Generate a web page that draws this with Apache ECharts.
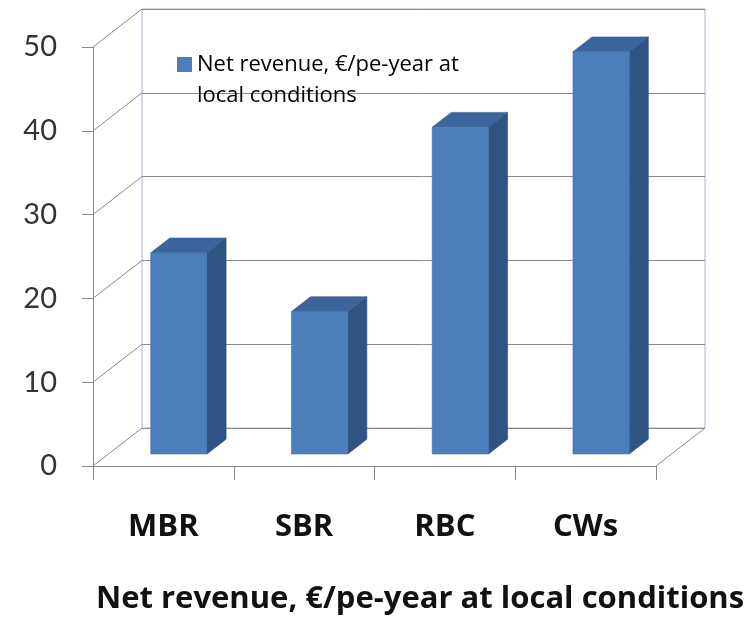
<!DOCTYPE html>
<html><head><meta charset="utf-8">
<script src="https://cdn.jsdelivr.net/npm/echarts@6/dist/echarts.min.js"></script>
<style>html,body{margin:0;padding:0;background:#fff}#c{width:755px;height:620px}</style>
</head><body><div id="c"></div>
<script>
// ---- data ----
const categories = ['MBR', 'SBR', 'RBC', 'CWs'];
const values = [24, 17, 39, 48];
const yTicks = [0, 10, 20, 30, 40, 50];
const seriesName = 'Net revenue, €/pe-year at local conditions';
const legendLines = ['Net revenue, €/pe-year at', 'local conditions'];
const axisTitle = 'Net revenue, €/pe-year at local conditions';

// ---- layout / style ----
const G = {left: 93, top: 47, width: 563, height: 419};
const DX = 49, DY = -38;          // depth offset of the back wall
const F = 0.316, B = 0.705;       // front / back depth fraction of bars
const BAR_W = 0.4;                // bar width fraction of band
const GRID_C = '#8a8a8a';
const WALL_EDGE = '#a3b6d2';
const FRONT = '#4B7EBB', TOP = '#3C659E', SIDE = '#2F5383';
// legend icon: square on top of a tall (invisible) box so it lines up with the first text line
const LEGEND_ICON = 'path://M0,0L15,0L15,15L0,15Z M0,46L0.01,46';

const chart = echarts.init(document.getElementById('c'), null, {renderer: 'canvas'});

const option = {
  backgroundColor: '#ffffff',
  animation: false,
  title: {
    text: axisTitle,
    left: 91, top: 579,
    textStyle: {fontFamily: 'Open Sans', fontWeight: 'bold', fontSize: 31, color: '#111'}
  },
  legend: {
    left: 177, top: 49, padding: 0,
    itemWidth: 15, itemHeight: 46, itemGap: 0,
    data: [{name: seriesName, icon: LEGEND_ICON}],
    formatter: () => legendLines.join('\n'),
    textStyle: {fontFamily: 'Open Sans', fontSize: 22, color: '#000', lineHeight: 31}
  },
  grid: [
    {left: G.left, top: G.top, width: G.width, height: G.height},
    {left: G.left + DX, top: G.top + DY, width: G.width, height: G.height,
     show: true, borderColor: WALL_EDGE, borderWidth: 1, backgroundColor: '#fff'}
  ],
  xAxis: [
    {type: 'category', gridIndex: 0, data: categories, boundaryGap: true,
     axisLine: {show: true, lineStyle: {color: GRID_C, width: 1}},
     axisTick: {show: true, length: 14, lineStyle: {color: GRID_C}},
     axisLabel: {margin: 46, fontFamily: 'Open Sans', fontWeight: 'bold', fontSize: 31, color: '#111'},
     splitLine: {show: false}, z: 5},
    {type: 'category', gridIndex: 1, data: categories, show: false}
  ],
  yAxis: [
    {type: 'value', gridIndex: 0, min: 0, max: 50, interval: 10,
     axisLine: {show: true, lineStyle: {color: GRID_C, width: 1}},
     axisTick: {show: true, length: 11, lineStyle: {color: GRID_C}},
     axisLabel: {margin: 36, fontFamily: 'Lato', fontSize: 29, color: '#333'},
     splitLine: {show: false}, z: 5},
    {type: 'value', gridIndex: 1, min: 0, max: 50, interval: 10,
     axisLine: {show: false}, axisTick: {show: false}, axisLabel: {show: false},
     splitLine: {show: true, lineStyle: {color: GRID_C, width: 1}}}
  ],
  series: [
    {
      type: 'custom', name: 'walls', xAxisIndex: 0, yAxisIndex: 0, silent: true, z: 1,
      data: yTicks.map(v => [0, v]),
      renderItem: (params, api) => {
        const v = api.value(1);
        const p = api.coord([0, v]);
        const bw = api.size([1, 0])[0];
        const x = p[0] - bw / 2;
        const children = [{type: 'line', shape: {x1: x, y1: p[1], x2: x + DX, y2: p[1] + DY},
          style: {stroke: GRID_C, lineWidth: 1}}];
        if (v === 0) {
          const q = api.coord([categories.length - 1, 0]);
          const xr = q[0] + bw / 2;
          children.push({type: 'line', shape: {x1: xr, y1: q[1], x2: xr + DX, y2: q[1] + DY},
            style: {stroke: GRID_C, lineWidth: 1}});
        }
        return {type: 'group', children};
      }
    },
    {
      type: 'custom', name: seriesName, xAxisIndex: 0, yAxisIndex: 0, z: 3,
      itemStyle: {color: FRONT},
      data: values.map((v, i) => [i, v]),
      renderItem: (params, api) => {
        const i = api.value(0), v = api.value(1);
        const c = api.coord([i, v]);
        const z0 = api.coord([i, 0]);
        const bw = api.size([1, 0])[0];
        const w = bw * BAR_W;
        const x0 = c[0] - w / 2 + F * DX, x1 = x0 + w;
        const yt = c[1] + F * DY, yb = z0[1] + F * DY;
        const dx = (B - F) * DX, dy = (B - F) * DY;
        return {type: 'group', children: [
          {type: 'polygon', shape: {points: [[x1, yt], [x1 + dx, yt + dy], [x1 + dx, yb + dy], [x1, yb]]},
           style: {fill: SIDE, stroke: '#2a4a75', lineWidth: 0.6}},
          {type: 'polygon', shape: {points: [[x0, yt], [x1, yt], [x1 + dx, yt + dy], [x0 + dx, yt + dy]]},
           style: {fill: TOP, stroke: '#34598c', lineWidth: 0.6}},
          {type: 'rect', shape: {x: x0, y: yt, width: w, height: yb - yt},
           style: {fill: FRONT, stroke: '#4271ab', lineWidth: 0.6}}
        ]};
      }
    }
  ]
};
chart.setOption(option);
</script>
</body></html>
